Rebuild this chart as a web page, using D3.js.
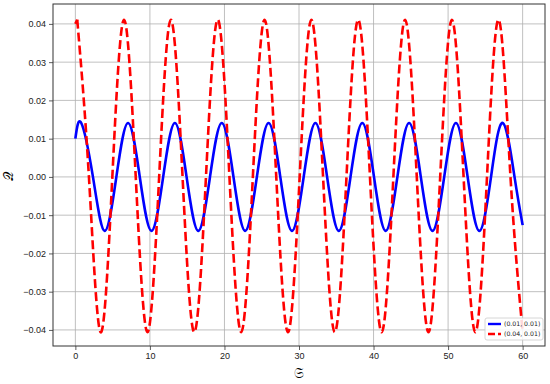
<!DOCTYPE html>
<html>
<head>
<meta charset="utf-8">
<script src="https://cdn.jsdelivr.net/npm/d3@7"></script>
<style>
  body { margin: 0; background: #fff; }
  svg { font-family: "DejaVu Sans", sans-serif; }
</style>
</head>
<body>
<svg id="chart" width="550" height="384"></svg>
<script>
// values: extrema and zero crossings of each curve
const blueX = [0, 0.79, 2.36, 3.93, 5.50, 7.07, 8.64, 10.21, 11.78, 13.35, 14.92, 16.49, 18.06,
  19.64, 21.21, 22.78, 24.35, 25.92, 27.49, 29.06, 30.63, 32.20, 33.77, 35.34, 36.91, 38.49,
  40.06, 41.63, 43.20, 44.77, 46.34, 47.91, 49.48, 51.05, 52.62, 54.19, 55.76, 57.33, 58.91, 60];
const blueY = [0.0100, 0.0141, 0, -0.0141, 0, 0.0141, 0, -0.0141, 0, 0.0141, 0, -0.0141, 0,
  0.0141, 0, -0.0141, 0, 0.0141, 0, -0.0141, 0, 0.0141, 0, -0.0141, 0, 0.0141,
  0, -0.0141, 0, 0.0141, 0, -0.0141, 0, 0.0141, 0, -0.0141, 0, 0.0141, 0, -0.0126];

const redX = [0, 0.25, 1.82, 3.39, 4.96, 6.53, 8.10, 9.67, 11.24, 12.81, 14.38, 15.95, 17.52,
  19.10, 20.67, 22.24, 23.81, 25.38, 26.95, 28.52, 30.09, 31.66, 33.23, 34.80, 36.37, 37.94,
  39.52, 41.09, 42.66, 44.23, 45.80, 47.37, 48.94, 50.51, 52.08, 53.65, 55.22, 56.79, 58.37, 60];
const redY = [0.0400, 0.0411, 0, -0.0406, 0, 0.0411, 0, -0.0406, 0, 0.0411, 0, -0.0406, 0,
  0.0411, 0, -0.0406, 0, 0.0411, 0, -0.0406, 0, 0.0411, 0, -0.0406, 0, 0.0411,
  0, -0.0406, 0, 0.0411, 0, -0.0406, 0, 0.0411, 0, -0.0406, 0, 0.0411, 0, -0.0405];

const xTicks = [0, 10, 20, 30, 40, 50, 60];
const yTicks = [-0.04, -0.03, -0.02, -0.01, 0, 0.01, 0.02, 0.03, 0.04];
const legendLabels = ["(0.01, 0.01)", "(0.04, 0.01)"];

const svg = d3.select("#chart");
const margin = {top: 4, right: 5, bottom: 38, left: 53},
    width = 550 - margin.left - margin.right,
    height = 384 - margin.top - margin.bottom;

const x = d3.scaleLinear().domain([-3, 63]).range([margin.left, margin.left + width]);
const y = d3.scaleLinear().domain([-0.0442, 0.0452]).range([margin.top + height, margin.top]);

// grid
svg.append("g").selectAll("line").data(xTicks).enter().append("line")
  .attr("x1", d => x(d)).attr("x2", d => x(d))
  .attr("y1", margin.top).attr("y2", margin.top + height)
  .attr("stroke", "#b0b0b0").attr("stroke-width", 0.8);
svg.append("g").selectAll("line").data(yTicks).enter().append("line")
  .attr("x1", margin.left).attr("x2", margin.left + width)
  .attr("y1", d => y(d)).attr("y2", d => y(d))
  .attr("stroke", "#b0b0b0").attr("stroke-width", 0.8);

// curves
const line = d3.line().x(d => x(d[0])).y(d => y(d[1])).curve(d3.curveNatural);
const straight = d3.line().x(d => x(d[0])).y(d => y(d[1]));
const blue = d3.zip(blueX, blueY);
const red = d3.zip(redX, redY);
const plot = svg.append("g");
plot.append("path")
  .datum(blue)
  .attr("d", line).attr("fill", "none")
  .attr("stroke", "#0000ff").attr("stroke-width", 2.6);
// short head of the red curve (start to first peak) kept straight to avoid spline overshoot
plot.append("path")
  .datum(red.slice(0, 2))
  .attr("d", straight).attr("fill", "none")
  .attr("stroke", "#ff0000").attr("stroke-width", 2.6);
plot.append("path")
  .datum(red.slice(1))
  .attr("d", line).attr("fill", "none")
  .attr("stroke", "#ff0000").attr("stroke-width", 2.6)
  .attr("stroke-dasharray", "9,4");

// axes
const xAxis = d3.axisBottom(x).tickValues(xTicks).tickSize(4).tickPadding(3).tickFormat(d3.format("d"));
svg.append("g")
  .attr("transform", `translate(0, ${margin.top + height})`)
  .call(xAxis)
  .call(g => g.select(".domain").remove());

const yAxis = d3.axisLeft(y).tickValues(yTicks).tickSize(4).tickPadding(3).tickFormat(d3.format(".2f"));
svg.append("g")
  .attr("transform", `translate(${margin.left}, 0)`)
  .call(yAxis)
  .call(g => g.select(".domain").remove());

svg.selectAll(".tick text").style("font-size", "9px").attr("fill", "#222");
svg.selectAll(".tick line").attr("stroke", "#333").attr("stroke-width", 0.8);

// frame
svg.append("rect")
  .attr("x", margin.left).attr("y", margin.top)
  .attr("width", width).attr("height", height)
  .attr("fill", "none").attr("stroke", "#333").attr("stroke-width", 1);

// axis labels
svg.append("text")
  .attr("x", x(30)).attr("y", 378)
  .attr("text-anchor", "middle")
  .style("font-size", "14px")
  .text("𝔖");
svg.append("text")
  .attr("transform", `translate(13, ${y(0)}) rotate(-90)`)
  .attr("text-anchor", "middle")
  .style("font-size", "13px")
  .text("𝒬");

// legend
const lg = svg.append("g").attr("transform", "translate(485, 318)");
lg.append("rect")
  .attr("width", 58).attr("height", 22).attr("rx", 2)
  .attr("fill", "#fff").attr("fill-opacity", 0.85)
  .attr("stroke", "#ccc").attr("stroke-width", 0.8);
const colors = ["#0000ff", "#ff0000"];
legendLabels.forEach((t, i) => {
  lg.append("line")
    .attr("x1", 3).attr("x2", 16)
    .attr("y1", 6 + i * 10).attr("y2", 6 + i * 10)
    .attr("stroke", colors[i]).attr("stroke-width", 2.4)
    .attr("stroke-dasharray", i === 1 ? "7,3" : null);
  lg.append("text")
    .attr("x", 19).attr("y", 8.2 + i * 10)
    .style("font-size", "6.2px").attr("fill", "#222")
    .text(t);
});
</script>
</body>
</html>
